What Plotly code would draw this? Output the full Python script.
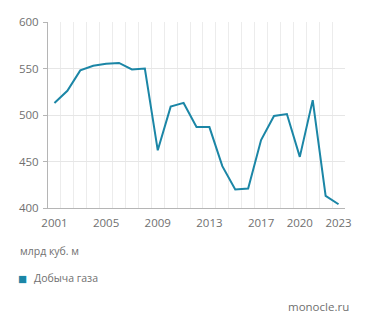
import plotly.graph_objects as go

# Natural gas production, bn cubic metres
years = list(range(2001, 2024))
production = [513, 526, 548, 553, 555, 556, 549, 550, 462, 509, 513, 487, 487,
              445, 420, 421, 473, 499, 501, 455, 516, 413, 404]

tick_years = [2001, 2005, 2009, 2013, 2017, 2020, 2023]
y_ticks = [400, 450, 500, 550, 600]

series_name = "Добыча газа"
unit_label = "млрд куб. м"
source_label = "monocle.ru"

LINE = "#1b86a6"
TEXT = "#707070"
FONT = "Open Sans"

fig = go.Figure()
fig.add_trace(go.Scatter(
    x=years, y=production, mode="lines", name=series_name,
    line=dict(color=LINE, width=2), showlegend=False,
))

W, H = 371, 330
L, R, T, B = 47.5, 25.5, 22, 121.5
pw = W - L - R
ph = H - T - B

def px_x(p):
    return (p - L) / pw

def px_y(p):
    return (H - B - p) / ph

fig.update_layout(
    width=W, height=H,
    margin=dict(l=L, r=R, t=T, b=B, pad=0),
    paper_bgcolor="white", plot_bgcolor="white",
    font=dict(family=FONT, size=11, color=TEXT),
    xaxis=dict(
        range=[2000.5, 2023.5], tickmode="array", tickvals=tick_years,
        ticktext=[str(y) for y in tick_years],
        showgrid=False, zeroline=False,
        showline=True, linecolor="#b5b5b5", linewidth=1,
        ticks="", ticklabelstandoff=4, tickfont=dict(size=11.5, color=TEXT),
        minor=dict(tick0=2000.5, dtick=1, showgrid=True,
                   gridcolor="#ececec", gridwidth=1, ticks=""),
        fixedrange=True,
    ),
    yaxis=dict(
        range=[400, 600], tickmode="array", tickvals=y_ticks,
        showgrid=True, gridcolor="#e6e6e6", gridwidth=1, zeroline=False,
        showline=True, linecolor="#b5b5b5", linewidth=1,
        ticks="outside", ticklen=4, tickcolor="#b5b5b5",
        ticklabelstandoff=2, tickfont=dict(size=11.5, color=TEXT),
        fixedrange=True,
    ),
    showlegend=False,
)

fig.add_annotation(text=unit_label, xref="paper", yref="paper",
                   x=px_x(17), y=px_y(252), xanchor="left", yanchor="middle",
                   showarrow=False, font=dict(size=10.5, color=TEXT))
fig.add_annotation(text="■", xref="paper", yref="paper",
                   x=px_x(22), y=px_y(279), xanchor="center", yanchor="middle",
                   showarrow=False, font=dict(size=15, color=LINE))
fig.add_annotation(text=series_name, xref="paper", yref="paper",
                   x=px_x(31), y=px_y(279), xanchor="left", yanchor="middle",
                   showarrow=False, font=dict(size=10.5, color=TEXT))
fig.add_annotation(text=source_label, xref="paper", yref="paper",
                   x=px_x(352), y=px_y(307), xanchor="right", yanchor="middle",
                   showarrow=False, font=dict(size=11.5, color=TEXT))

fig.write_html("out.html", config={"displayModeBar": False})
